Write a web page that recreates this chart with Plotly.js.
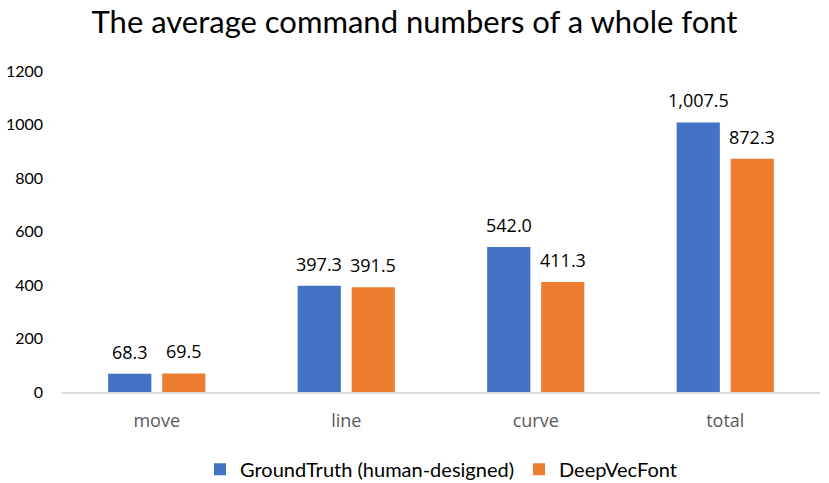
<!DOCTYPE html>
<html><head><meta charset="utf-8">
<script src="https://cdn.plot.ly/plotly-3.0.1.min.js"></script>
<style>html,body{margin:0;padding:0;background:#fff}#chart{width:829px;height:483px}</style>
</head><body><div id="chart"></div>
<script>
const categories = ["move", "line", "curve", "total"];
const groundTruth = [68.3, 397.3, 542.0, 1007.5];
const deepVecFont = [69.5, 391.5, 411.3, 872.3];
const seriesNames = ["GroundTruth (human-designed)", "DeepVecFont"];
const yTicks = [0, 200, 400, 600, 800, 1000, 1200];

const fmt = v => v.toLocaleString('en-US', {minimumFractionDigits: 1, maximumFractionDigits: 1});
const labelFont = {family: "Open Sans, sans-serif", size: 18, color: "#000"};

const traces = [
  {type: 'bar', name: seriesNames[0], x: categories, y: groundTruth, marker: {color: '#4472C4'}, hoverinfo: 'none'},
  {type: 'bar', name: seriesNames[1], x: categories, y: deepVecFont, marker: {color: '#ED7D31'}, hoverinfo: 'none'}
];

const annotations = [];
categories.forEach((c, i) => {
  annotations.push({x: c, y: groundTruth[i], xref: 'x', yref: 'y', text: fmt(groundTruth[i]), showarrow: false, xshift: -27, yshift: 8, yanchor: 'bottom', font: labelFont});
  annotations.push({x: c, y: deepVecFont[i], xref: 'x', yref: 'y', text: fmt(deepVecFont[i]), showarrow: false, xshift: 27, yshift: 8, yanchor: 'bottom', font: labelFont});
});

const layout = {
  width: 829, height: 483,
  margin: {l: 62, r: 9, t: 71, b: 91, autoexpand: false},
  paper_bgcolor: '#fff', plot_bgcolor: '#fff',
  title: {text: 'The average command numbers of a whole font', x: 0.5, xanchor: 'center', y: 0.955, yanchor: 'middle',
          font: {family: 'Lato, sans-serif', size: 31, color: '#000'}},
  barmode: 'group', bargap: 0.43, bargroupgap: 0.2,
  xaxis: {type: 'category', showgrid: false, showline: true, linecolor: '#D9D9D9', linewidth: 1.5, ticks: '',
          tickfont: {family: 'Open Sans, sans-serif', size: 18, color: '#595959'}, ticklabelstandoff: 12, zeroline: false},
  yaxis: {range: [0, 1200], tickvals: yTicks, ticktext: yTicks.map(String), showgrid: false, showline: false, zeroline: false, ticks: '',
          tickfont: {family: 'Lato, sans-serif', size: 16, color: '#000'}, ticklabelstandoff: 18},
  showlegend: true,
  legend: {orientation: 'h', x: 0.5, xanchor: 'center', y: -0.18, yanchor: 'top',
           font: {family: 'Lato, sans-serif', size: 20, color: '#000'}, itemwidth: 30, tracegroupgap: 0},
  annotations: annotations
};

Plotly.newPlot('chart', traces, layout, {displayModeBar: false, staticPlot: true});
</script></body></html>
